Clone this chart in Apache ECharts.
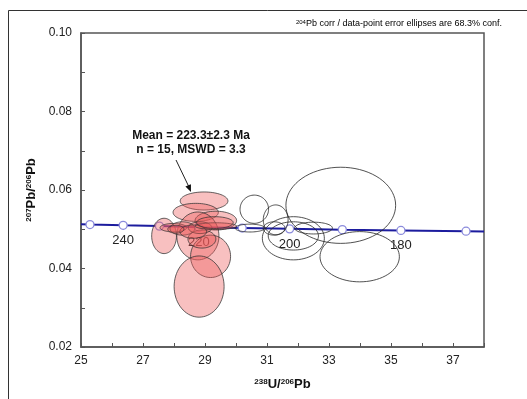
<!DOCTYPE html>
<html>
<head>
<meta charset="utf-8">
<script src="https://cdn.jsdelivr.net/npm/echarts@6/dist/echarts.min.js"></script>
<style>
html, body { margin: 0; padding: 0; background: #fff; }
#main { width: 527px; height: 399px; }
</style>
</head>
<body>
<div id="main"></div>
<script>
// concordia ages (Ma) and their Tera-Wasserburg coordinates
var concordiaAges = [250, 240, 230, 220, 210, 200, 190, 180, 170];
var concordiaX = [25.29, 26.36, 27.53, 28.80, 30.20, 31.73, 33.43, 35.32, 37.42];
var concordiaY = [0.0512, 0.0510, 0.0508, 0.0505, 0.0503, 0.0501, 0.0499, 0.0497, 0.0495];
var labeledAges = [240, 220, 200, 180];
var concordiaStart = [25, 0.0513];
var concordiaEnd = [38, 0.0494];

// error ellipses: [x, y, semi-axis x, semi-axis y]
var keptEllipses = [
    [28.97, 0.0572, 0.77, 0.0023],
    [28.70, 0.0543, 0.73, 0.0023],
    [29.35, 0.0522, 0.67, 0.0024],
    [27.68, 0.0483, 0.40, 0.0045],
    [28.77, 0.0483, 0.68, 0.0061],
    [29.18, 0.0431, 0.645, 0.0054],
    [28.81, 0.0354, 0.806, 0.0078],
    [28.90, 0.0475, 0.45, 0.0023],
    [27.98, 0.0504, 0.43, 0.00107],
    [28.27, 0.0502, 0.40, 0.0017],
    [28.84, 0.0504, 0.38, 0.0015],
    [28.62, 0.0494, 0.43, 0.0017],
    [29.35, 0.0508, 0.67, 0.00085],
    [29.32, 0.0517, 0.59, 0.0015],
    [28.06, 0.0500, 0.26, 0.0010]
];
var rejectedEllipses = [
    [33.38, 0.0561, 1.77, 0.0097],
    [33.99, 0.0430, 1.28, 0.0064],
    [30.59, 0.0551, 0.46, 0.0036],
    [31.28, 0.0524, 0.40, 0.0038],
    [31.85, 0.0477, 1.00, 0.0055],
    [31.85, 0.0483, 0.81, 0.0036],
    [30.45, 0.0503, 0.48, 0.0010],
    [32.50, 0.0503, 0.61, 0.0015],
    [31.23, 0.0502, 0.35, 0.0017]
];

var xTicks = [25, 27, 29, 31, 33, 35, 37];
var yTicks = [0.02, 0.04, 0.06, 0.08, 0.10];

var chart = echarts.init(document.getElementById('main'));

var concordiaData = [{ value: concordiaStart, symbol: 'none' }];
concordiaAges.forEach(function (age, i) {
    concordiaData.push({ value: [concordiaX[i], concordiaY[i], age] });
});
concordiaData.push({ value: concordiaEnd, symbol: 'none' });

function ellipseItem(fill, stroke) {
    return function (params, api) {
        var c = api.coord([api.value(0), api.value(1)]);
        var s = api.size([api.value(2), api.value(3)]);
        var pts = [];
        for (var k = 0; k < 72; k++) {
            var a = k / 72 * Math.PI * 2;
            pts.push([c[0] + s[0] * Math.cos(a), c[1] + s[1] * Math.sin(a)]);
        }
        return {
            type: 'polygon',
            shape: { points: pts },
            style: { fill: fill, stroke: stroke, lineWidth: 0.9 }
        };
    };
}

var supRich = {
    b: { fontSize: 13, fontWeight: 'bold', color: '#111', fontFamily: 'Liberation Sans' },
    s: { fontSize: 8, fontWeight: 'bold', color: '#111', fontFamily: 'Liberation Sans', verticalAlign: 'top' }
};

var option = {
    backgroundColor: '#fff',
    animation: false,
    grid: {
        left: 81, top: 33, right: 43, bottom: 52,
        show: true, borderColor: '#555', borderWidth: 1.5
    },
    xAxis: {
        type: 'value', min: 25, max: 38, interval: 1,
        name: '{s|238}{b|U/}{s|206}{b|Pb}',
        nameLocation: 'middle', nameGap: 31,
        nameTextStyle: { rich: supRich },
        splitLine: { show: false },
        axisLine: { lineStyle: { color: '#555', width: 1.5 } },
        axisTick: { inside: true, length: 4, lineStyle: { color: '#555' } },
        axisLabel: {
            color: '#222', fontSize: 12, fontFamily: 'Liberation Sans', margin: 8,
            formatter: function (v) { return xTicks.indexOf(v) >= 0 ? String(v) : ''; }
        }
    },
    yAxis: {
        type: 'value', min: 0.02, max: 0.10, interval: 0.01,
        name: '{s|207}{b|Pb/}{s|206}{b|Pb}',
        nameLocation: 'middle', nameGap: 40, nameRotate: 90,
        nameTextStyle: { rich: supRich },
        splitLine: { show: false },
        axisLine: { lineStyle: { color: '#555', width: 1.5 } },
        axisTick: { inside: true, length: 4, lineStyle: { color: '#555' } },
        axisLabel: {
            color: '#222', fontSize: 12, fontFamily: 'Liberation Sans', margin: 9,
            formatter: function (v) {
                var r = Math.round(v * 100) / 100;
                return yTicks.indexOf(r) >= 0 && Math.abs(v - r) < 1e-9 ? r.toFixed(2) : '';
            }
        }
    },
    series: [
        {
            type: 'line',
            data: concordiaData,
            z: 1,
            symbol: 'circle',
            symbolSize: 8,
            lineStyle: { color: '#1c1c9e', width: 2 },
            itemStyle: { color: '#fff', borderColor: '#8b8bdc', borderWidth: 1.3 },
            label: {
                show: true, position: 'bottom', distance: 4,
                color: '#222', fontSize: 13, fontFamily: 'Liberation Sans',
                formatter: function (p) {
                    var age = p.value[2];
                    return labeledAges.indexOf(age) >= 0 ? String(age) : '';
                }
            }
        },
        {
            type: 'custom',
            z: 3,
            clip: true,
            data: rejectedEllipses,
            renderItem: ellipseItem('none', 'rgba(40,40,40,0.9)')
        },
        {
            type: 'custom',
            z: 4,
            clip: true,
            data: keptEllipses,
            renderItem: ellipseItem('rgba(236,90,90,0.38)', 'rgba(50,50,50,0.85)')
        }
    ],
    graphic: [
        { type: 'line', shape: { x1: 8.5, y1: 10.5, x2: 527, y2: 10.5 }, style: { stroke: '#333', lineWidth: 1 } },
        { type: 'line', shape: { x1: 8.5, y1: 10.5, x2: 8.5, y2: 399 }, style: { stroke: '#333', lineWidth: 1 } },
        {
            type: 'text', right: 25, top: 19,
            style: {
                text: '{s|204}{t|Pb corr / data-point error ellipses are 68.3% conf.}',
                rich: {
                    t: { fontSize: 9, color: '#222', fontFamily: 'Liberation Sans' },
                    s: { fontSize: 6, color: '#222', fontFamily: 'Liberation Sans', verticalAlign: 'top' }
                }
            }
        },
        {
            type: 'text', x: 191, y: 129,
            style: {
                text: 'Mean = 223.3±2.3 Ma\nn = 15, MSWD = 3.3',
                fill: '#111', font: 'bold 12px "Liberation Sans"',
                textAlign: 'center', lineHeight: 14
            }
        },
        { type: 'line', shape: { x1: 176, y1: 160, x2: 188.5, y2: 186 }, style: { stroke: '#222', lineWidth: 1 } },
        { type: 'polygon', shape: { points: [[191, 192], [185.4, 186.6], [190.9, 184.2]] }, style: { fill: '#111' } }
    ]
};

chart.setOption(option);
window.addEventListener('resize', function () { chart.resize(); });
</script>
</body>
</html>
